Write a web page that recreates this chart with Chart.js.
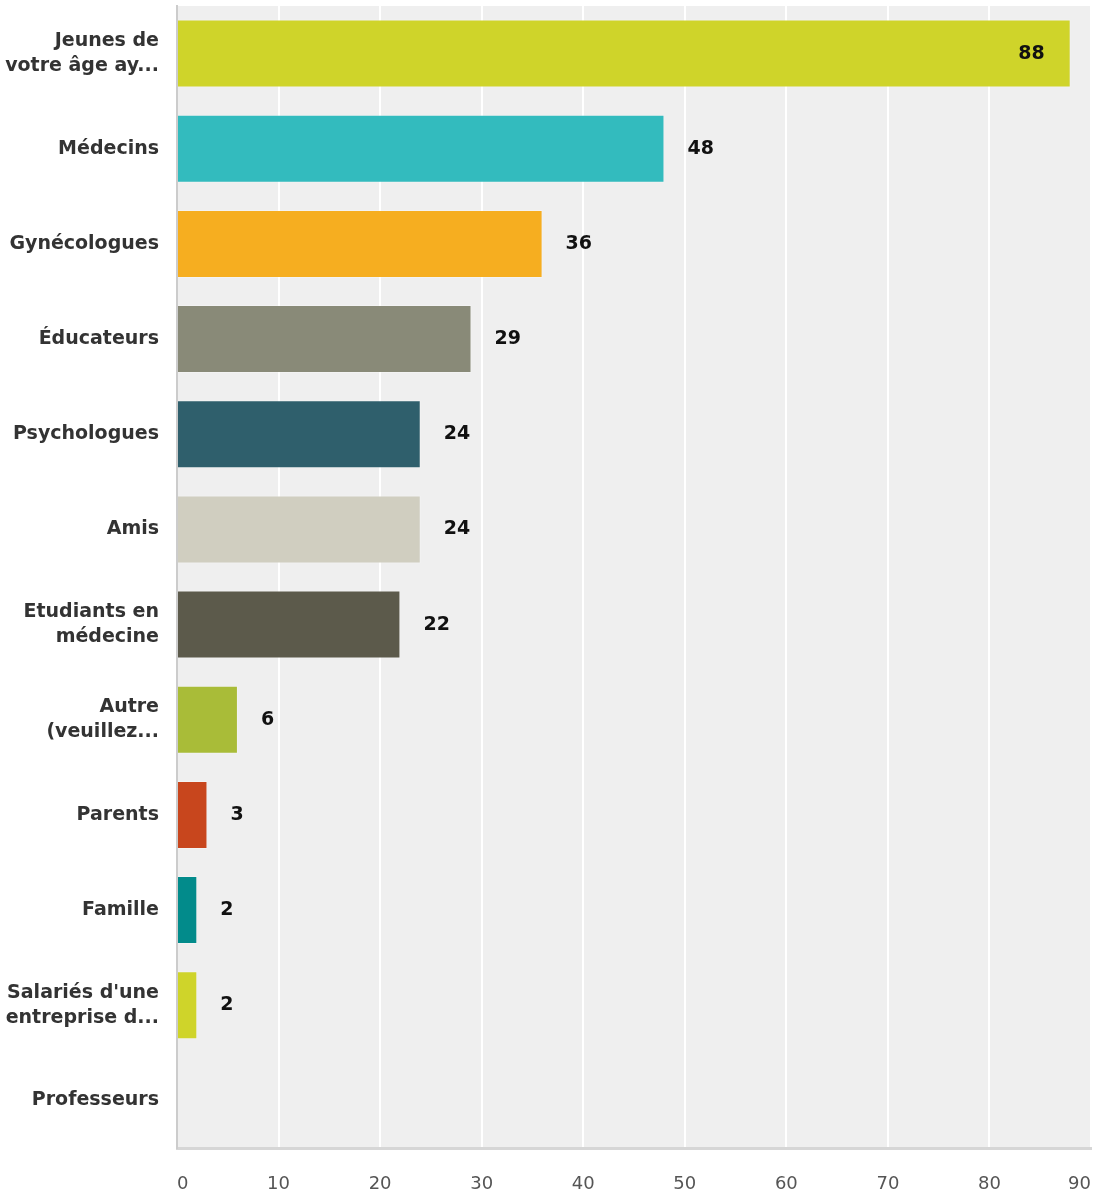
<!DOCTYPE html>
<html>
<head>
<meta charset="utf-8">
<script src="https://cdn.jsdelivr.net/npm/chart.js@4/dist/chart.umd.min.js"></script>
<style>
  html, body { margin: 0; padding: 0; background: #fff; }
  #wrap { width: 1097px; height: 1194px; position: relative; }
</style>
</head>
<body>
<div id="wrap"><canvas id="graph"></canvas></div>
<script>
const categories = [
  ['Jeunes de', 'votre âge ay...'],
  'Médecins',
  'Gynécologues',
  'Éducateurs',
  'Psychologues',
  'Amis',
  ['Etudiants en', 'médecine'],
  ['Autre', '(veuillez...'],
  'Parents',
  'Famille',
  ["Salariés d'une", 'entreprise d...'],
  'Professeurs'
];
const values = [88, 48, 36, 29, 24, 24, 22, 6, 3, 2, 2, 0];
const barColors = [
  '#cfd42a', '#33bbbe', '#f6ae20', '#898a78', '#2f5f6c', '#d0cec0',
  '#5c5a4b', '#a9bc38', '#c8461d', '#028b8b', '#cfd42a', '#cfd42a'
];
const xTicks = [0, 10, 20, 30, 40, 50, 60, 70, 80, 90];

// grey plot background
const plotBg = {
  id: 'plotBg',
  beforeDraw(chart) {
    const a = chart.chartArea, ctx = chart.ctx;
    ctx.save();
    ctx.fillStyle = '#efefef';
    ctx.fillRect(a.left, a.top, a.right - a.left, a.bottom - a.top);
    ctx.restore();
  }
};

// value labels after each bar (inside when it would not fit)
const valueLabels = {
  id: 'valueLabels',
  afterDatasetsDraw(chart) {
    const ctx = chart.ctx, a = chart.chartArea;
    const meta = chart.getDatasetMeta(0);
    ctx.save();
    ctx.font = 'bold 19px "DejaVu Sans"';
    ctx.fillStyle = '#111';
    ctx.textBaseline = 'middle';
    meta.data.forEach((bar, i) => {
      const v = values[i];
      if (!v) return;
      const txt = String(v);
      const w = ctx.measureText(txt).width;
      if (bar.x + 24 + w > a.right - 10) {
        ctx.textAlign = 'right';
        ctx.fillText(txt, bar.x - 26, bar.y);
      } else {
        ctx.textAlign = 'left';
        ctx.fillText(txt, bar.x + 23, bar.y);
      }
    });
    ctx.restore();
  }
};

new Chart(document.getElementById('graph'), {
  type: 'bar',
  plugins: [plotBg, valueLabels],
  data: {
    labels: categories,
    datasets: [{
      data: values,
      backgroundColor: barColors,
      borderColor: 'rgba(255,255,255,0.25)',
      borderWidth: 1,
      barPercentage: 0.715,
      categoryPercentage: 1
    }]
  },
  options: {
    indexAxis: 'y',
    responsive: true,
    maintainAspectRatio: false,
    animation: false,
    layout: { padding: { top: 6, right: 6, left: 0, bottom: 0 } },
    plugins: { legend: { display: false }, tooltip: { enabled: false } },
    scales: {
      x: {
        min: xTicks[0],
        max: xTicks[xTicks.length - 1],
        afterBuildTicks(scale) { scale.ticks = xTicks.map(v => ({ value: v })); },
        afterFit(scale) {
          scale.height = 46;
          scale.paddingLeft = 0;
          scale.paddingRight = 0;
        },
        grid: {
          color: ctx => ctx.index === 0 ? 'rgba(0,0,0,0)' : '#ffffff',
          lineWidth: 2,
          drawTicks: false
        },
        border: { color: '#d6d6d6', width: 3 },
        ticks: {
          align: 'inner',
          padding: 26,
          color: '#555',
          font: { family: '"DejaVu Sans"', size: 18 },
          maxRotation: 0
        }
      },
      y: {
        afterFit(scale) {
          scale.width = 177;
          scale.paddingTop = 0;
          scale.paddingBottom = 0;
        },
        grid: { display: false },
        border: { color: '#cccccc', width: 2 },
        ticks: {
          padding: 10,
          color: '#333',
          font: { family: '"DejaVu Sans"', size: 19, weight: 'bold', lineHeight: 1.32 },
          autoSkip: false
        }
      }
    }
  }
});
</script>
</body>
</html>
